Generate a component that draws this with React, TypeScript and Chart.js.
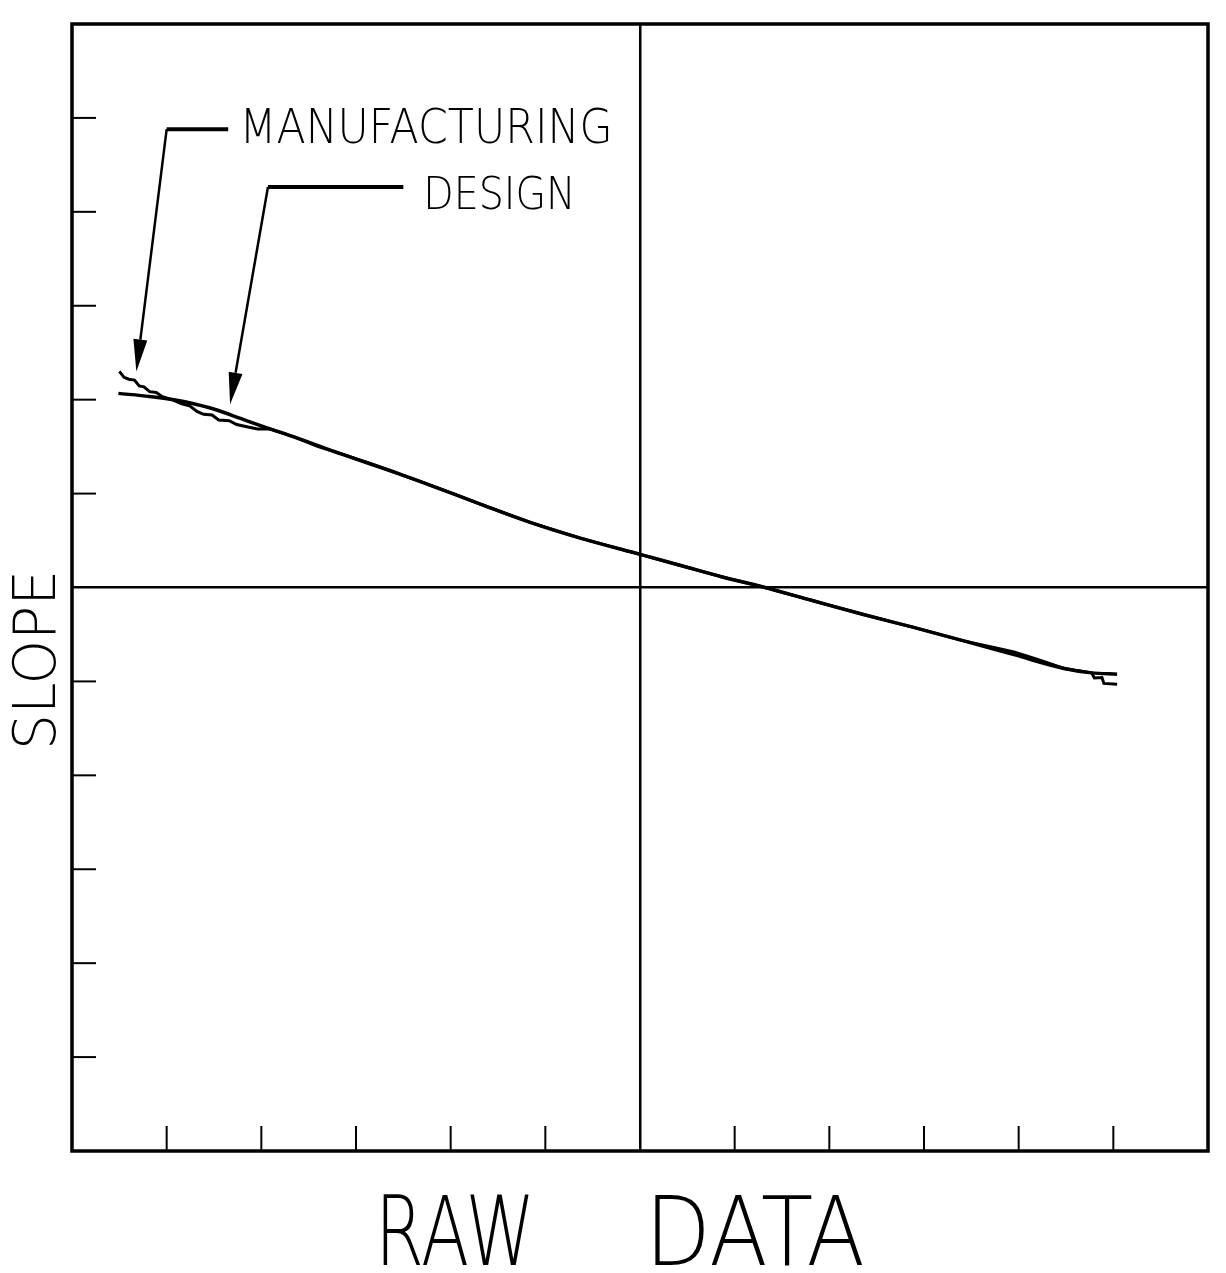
import { useEffect, useRef } from "react";
import { Chart, registerables } from "chart.js";

Chart.register(...registerables);

// ---- data ----
const axisMin = -6;
const axisMax = 6;
const seriesLabels = ["DESIGN", "MANUFACTURING"];

const designX = [-5.51, -5.18, -4.76, -4.47, -4.22, -3.97, -3.62, -3.16, -2.55, -2.2, -1.7, -1.16, -0.63, 0.01, 0.44, 0.86, 1.29, 1.82, 2.35, 2.88, 3.42, 3.95, 4.48, 4.77, 5.04];
const designY = [2.067, 2.033, 1.968, 1.89, 1.8, 1.71, 1.591, 1.422, 1.213, 1.083, 0.894, 0.694, 0.526, 0.35, 0.232, 0.115, 0.008, -0.139, -0.285, -0.422, -0.568, -0.715, -0.862, -0.909, -0.923];

const mfgX = [-5.5, -5.45, -5.4, -5.34, -5.29, -5.24, -5.18, -5.11, -5.05, -4.93, -4.84, -4.76, -4.68, -4.61, -4.52, -4.45, -4.34, -4.26, -4.13, -4.04, -3.91, -3.62, -3.4, -3.16, -2.85, -2.55, -2.2, -1.7, -1.4, -1.16, -0.9, -0.63, 0.01, 0.44, 0.86, 1.29, 1.82, 2.35, 2.88, 3.42, 3.75, 3.95, 4.2, 4.48, 4.77, 4.8, 4.88, 4.9, 5.04];
const mfgY = [2.301, 2.238, 2.218, 2.209, 2.146, 2.137, 2.085, 2.076, 2.035, 1.996, 1.955, 1.936, 1.874, 1.844, 1.836, 1.784, 1.776, 1.735, 1.707, 1.688, 1.69, 1.59, 1.5, 1.425, 1.32, 1.21, 1.085, 0.894, 0.78, 0.694, 0.61, 0.526, 0.35, 0.232, 0.115, 0.008, -0.139, -0.285, -0.422, -0.568, -0.64, -0.685, -0.765, -0.862, -0.909, -0.963, -0.959, -1.021, -1.029];

// callouts (data units)
const calloutLabels = ["MANUFACTURING", "DESIGN"];
const calloutTextX = [-4.23, -2.29];
const calloutTextY = [4.73, 4.035];
const calloutTextW = [3.94, 1.61];
const calloutFont = [48, 45];
const calloutElbowX = [-5.0, -3.93];
const calloutElbowY = [4.88, 4.265];
const calloutEndX = [-4.35, -2.5];
const calloutTipX = [-5.32, -4.33];
const calloutTipY = [2.3, 1.95];

const xTitle = ["RAW", "DATA"];
const yTitle = "SLOPE";

const FONT = '"DejaVu Sans", "Liberation Sans", sans-serif';

function drawFitText(ctx: CanvasRenderingContext2D, text: string, x: number, y: number, size: number, width: number, weight = 200) {
  ctx.save();
  ctx.font = `${weight} ${size}px ${FONT}`;
  ctx.textBaseline = "alphabetic";
  ctx.textAlign = "left";
  const m = ctx.measureText(text).width;
  ctx.translate(x, y);
  ctx.scale(width / m, 1);
  ctx.fillText(text, 0, 0);
  ctx.restore();
}

const decorPlugin = {
  id: "decor",
  afterDraw(chart: any) {
    const ctx: CanvasRenderingContext2D = chart.ctx;
    const { left, right, top, bottom } = chart.chartArea;
    const xs = chart.scales.x;
    const ys = chart.scales.y;
    ctx.save();
    ctx.strokeStyle = "#000";
    ctx.fillStyle = "#000";
    ctx.lineCap = "butt";

    // frame
    ctx.lineWidth = 3.5;
    ctx.strokeRect(left, top, right - left, bottom - top);

    // inward ticks
    ctx.lineWidth = 2;
    for (const t of xs.ticks) {
      if (t.value === 0 || t.value <= axisMin || t.value >= axisMax) continue;
      const px = xs.getPixelForValue(t.value);
      ctx.beginPath();
      ctx.moveTo(px, bottom);
      ctx.lineTo(px, bottom - 25);
      ctx.stroke();
    }
    for (const t of ys.ticks) {
      if (t.value === 0 || t.value <= axisMin || t.value >= axisMax) continue;
      const py = ys.getPixelForValue(t.value);
      ctx.beginPath();
      ctx.moveTo(left, py);
      ctx.lineTo(left + 24, py);
      ctx.stroke();
    }

    // callouts
    for (let i = 0; i < calloutLabels.length; i++) {
      const ex = xs.getPixelForValue(calloutElbowX[i]);
      const ey = ys.getPixelForValue(calloutElbowY[i]);
      const endx = xs.getPixelForValue(calloutEndX[i]);
      const tx = xs.getPixelForValue(calloutTipX[i]);
      const ty = ys.getPixelForValue(calloutTipY[i]);
      ctx.lineWidth = 4;
      ctx.beginPath();
      ctx.moveTo(endx, ey);
      ctx.lineTo(ex, ey);
      ctx.stroke();
      ctx.lineWidth = 2.5;
      const ang = Math.atan2(ty - ey, tx - ex);
      const headLen = 32;
      const headW = 7;
      const bx = tx - Math.cos(ang) * headLen;
      const by = ty - Math.sin(ang) * headLen;
      ctx.beginPath();
      ctx.moveTo(ex, ey);
      ctx.lineTo(bx, by);
      ctx.stroke();
      ctx.beginPath();
      ctx.moveTo(tx, ty);
      ctx.lineTo(bx + Math.sin(ang) * headW, by - Math.cos(ang) * headW);
      ctx.lineTo(bx - Math.sin(ang) * headW, by + Math.cos(ang) * headW);
      ctx.closePath();
      ctx.fill();

      const lx = xs.getPixelForValue(calloutTextX[i]);
      const ly = ys.getPixelForValue(calloutTextY[i]);
      const lw = xs.getPixelForValue(calloutTextX[i] + calloutTextW[i]) - lx;
      drawFitText(ctx, calloutLabels[i], lx, ly, calloutFont[i], lw, 300);
    }

    // axis titles
    drawFitText(ctx, xTitle[0], 375, 1265, 96, 160);
    drawFitText(ctx, xTitle[1], 645, 1265, 96, 220);

    ctx.save();
    ctx.translate(55, 750);
    ctx.rotate(-Math.PI / 2);
    drawFitText(ctx, yTitle, 0, 0, 59, 180);
    ctx.restore();

    ctx.restore();
  },
};

export default function App() {
  const ref = useRef<HTMLCanvasElement>(null);
  useEffect(() => {
    if (!ref.current) return;
    const zeroGrid = {
      color: (c: any) => (c.tick && c.tick.value === 0 ? "#000" : "rgba(0,0,0,0)"),
      lineWidth: 2.5,
      drawTicks: false,
    };
    const chart = new Chart(ref.current, {
      type: "line",
      data: {
        datasets: [
          {
            label: seriesLabels[0],
            data: designX.map((x, i) => ({ x, y: designY[i] })),
            borderColor: "#000",
            borderWidth: 3.5,
            pointRadius: 0,
            tension: 0.4,
            cubicInterpolationMode: "monotone",
            fill: false,
          },
          {
            label: seriesLabels[1],
            data: mfgX.map((x, i) => ({ x, y: mfgY[i] })),
            borderColor: "#000",
            borderWidth: 3,
            pointRadius: 0,
            tension: 0,
            fill: false,
          },
        ],
      },
      options: {
        animation: false,
        responsive: true,
        maintainAspectRatio: false,
        layout: { padding: { left: 72, right: 18, top: 24, bottom: 122 } },
        plugins: { legend: { display: false }, tooltip: { enabled: false } },
        scales: {
          x: {
            type: "linear",
            min: axisMin,
            max: axisMax,
            ticks: { display: false, stepSize: 1 },
            grid: zeroGrid as any,
            border: { display: false },
          },
          y: {
            type: "linear",
            min: axisMin,
            max: axisMax,
            ticks: { display: false, stepSize: 1 },
            grid: zeroGrid as any,
            border: { display: false },
          },
        },
      },
      plugins: [decorPlugin],
    });
    return () => chart.destroy();
  }, []);
  return (
    <div style={{ position: "fixed", left: 0, top: 0, width: 1226, height: 1273, background: "#fff" }}>
      <canvas ref={ref} />
    </div>
  );
}
